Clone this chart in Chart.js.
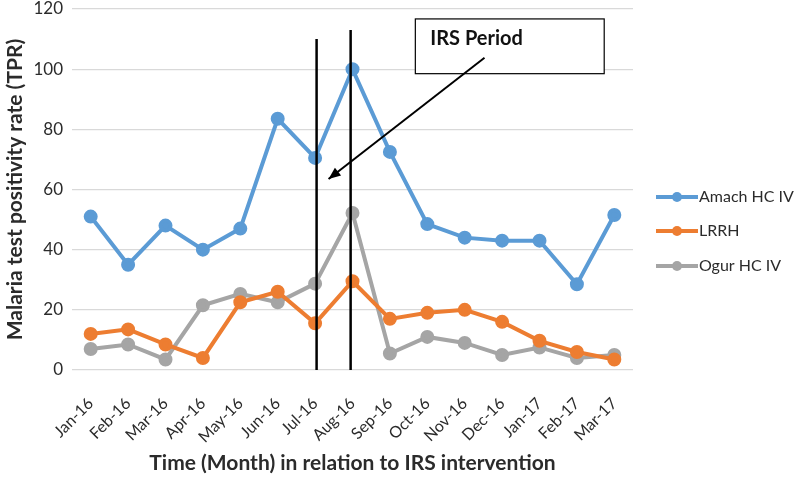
<!DOCTYPE html>
<html>
<head>
<meta charset="utf-8">
<script src="https://cdn.jsdelivr.net/npm/chart.js@4"></script>
<style>
  html, body { margin: 0; padding: 0; background: #fff; }
  #wrap { width: 797px; height: 478px; position: relative; }
</style>
</head>
<body>
<div id="wrap"><canvas id="tprChart"></canvas></div>
<script>
// Datos
const months = ['Jan-16', 'Feb-16', 'Mar-16', 'Apr-16', 'May-16', 'Jun-16', 'Jul-16', 'Aug-16',
                'Sep-16', 'Oct-16', 'Nov-16', 'Dec-16', 'Jan-17', 'Feb-17', 'Mar-17'];
const amach = [51, 35, 48, 40, 47, 83.5, 70.5, 100, 72.5, 48.5, 44, 43, 43, 28.5, 51.5];
const lrrh = [12, 13.5, 8.5, 4, 22.5, 26, 15.5, 29.5, 17, 19, 20, 16, 9.7, 6, 3.5];
const ogur = [7, 8.5, 3.5, 21.5, 25.3, 22.5, 28.7, 52.2, 5.5, 11, 9, 5, 7.5, 4, 5];
const yTicks = [0, 20, 40, 60, 80, 100, 120];

const FONT = 'Lato, "Open Sans", sans-serif';
const TEXT = '#2b2b2b';

// Anotación: líneas del periodo IRS, caja y flecha (en unidades de las escalas)
const irsPlugin = {
    id: 'irs',
    afterDatasetsDraw(chart) {
        const { ctx, scales: { x, y } } = chart;
        ctx.save();
        ctx.strokeStyle = '#000';
        ctx.lineWidth = 2.5;
        [[6.04, 110], [6.95, 113]].forEach(([i, top]) => {
            const px = x.getPixelForValue(i);
            ctx.beginPath();
            ctx.moveTo(px, y.getPixelForValue(0));
            ctx.lineTo(px, y.getPixelForValue(top));
            ctx.stroke();
        });

        // caja
        const bx0 = x.getPixelForValue(8.68), bx1 = x.getPixelForValue(13.73);
        const by0 = y.getPixelForValue(116.7), by1 = y.getPixelForValue(98.5);
        ctx.fillStyle = '#fff';
        ctx.fillRect(bx0, by0, bx1 - bx0, by1 - by0);
        ctx.lineWidth = 1.2;
        ctx.strokeRect(bx0, by0, bx1 - bx0, by1 - by0);
        ctx.fillStyle = '#111';
        ctx.font = 'bold 20px ' + FONT;
        ctx.textBaseline = 'middle';
        ctx.fillText('IRS Period', bx0 + 15, by0 + 20);

        // flecha
        const ax0 = x.getPixelForValue(10.53), ay0 = y.getPixelForValue(103.8);
        const ax1 = x.getPixelForValue(6.36), ay1 = y.getPixelForValue(63.5);
        ctx.lineWidth = 2;
        ctx.beginPath();
        ctx.moveTo(ax0, ay0);
        ctx.lineTo(ax1, ay1);
        ctx.stroke();
        const ang = Math.atan2(ay1 - ay0, ax1 - ax0);
        ctx.fillStyle = '#000';
        ctx.beginPath();
        ctx.moveTo(ax1, ay1);
        ctx.lineTo(ax1 - 13 * Math.cos(ang - 0.4), ay1 - 13 * Math.sin(ang - 0.4));
        ctx.lineTo(ax1 - 13 * Math.cos(ang + 0.4), ay1 - 13 * Math.sin(ang + 0.4));
        ctx.closePath();
        ctx.fill();

        // leyenda a la derecha
        const lx = chart.chartArea.right + 23;
        const ly = [197, 231, 266];
        ctx.font = '16px ' + FONT;
        chart.data.datasets.forEach((ds, k) => {
            ctx.strokeStyle = ds.borderColor;
            ctx.lineWidth = 4;
            ctx.beginPath();
            ctx.moveTo(lx, ly[k]);
            ctx.lineTo(lx + 42, ly[k]);
            ctx.stroke();
            ctx.fillStyle = ds.borderColor;
            ctx.beginPath();
            ctx.arc(lx + 21, ly[k], 5, 0, Math.PI * 2);
            ctx.fill();
            ctx.fillStyle = TEXT;
            ctx.fillText(ds.label, lx + 43, ly[k]);
        });
        ctx.restore();
    }
};

const mkSet = (label, data, color) => ({
    label, data,
    borderColor: color,
    backgroundColor: color,
    borderWidth: 4,
    pointRadius: 5,
    pointHoverRadius: 5,
    tension: 0
});

new Chart(document.getElementById('tprChart'), {
    type: 'line',
    data: {
        labels: months,
        datasets: [
            mkSet('Amach HC IV', amach, '#5B9BD5'),
            mkSet('LRRH', lrrh, '#ED7D31'),
            mkSet('Ogur HC IV', ogur, '#A5A5A5')
        ]
    },
    options: {
        responsive: true,
        maintainAspectRatio: false,
        animation: false,
        layout: { padding: { top: 7, right: 164, left: 0, bottom: 0 } },
        plugins: { legend: { display: false }, tooltip: { enabled: false } },
        scales: {
            x: {
                offset: true,
                grid: { display: false },
                border: { display: false },
                ticks: {
                    color: TEXT,
                    font: { family: FONT, size: 16 },
                    maxRotation: 45, minRotation: 45,
                    autoSkip: false, padding: 16
                },
                title: {
                    display: true,
                    text: 'Time (Month) in relation to IRS intervention',
                    color: TEXT,
                    font: { family: FONT, size: 21, weight: 'bold' },
                    padding: { top: 0, bottom: 2 }
                },
                afterFit: s => { s.height = 108; s.paddingLeft = 0; s.paddingRight = 0; }
            },
            y: {
                min: 0, max: 120,
                afterBuildTicks: s => { s.ticks = yTicks.map(v => ({ value: v })); },
                grid: { color: '#D9D9D9', lineWidth: 1.2, drawTicks: false },
                border: { display: false },
                ticks: {
                    color: TEXT,
                    font: { family: FONT, size: 17 },
                    padding: 9
                },
                title: {
                    display: true,
                    text: 'Malaria test positivity rate (TPR)',
                    color: TEXT,
                    font: { family: FONT, size: 21, weight: 'bold' },
                    padding: { top: 3, bottom: 0 }
                },
                afterFit: s => { s.width = 72; s.paddingTop = 0; s.paddingBottom = 0; }
            }
        }
    },
    plugins: [irsPlugin]
});
</script>
</body>
</html>
